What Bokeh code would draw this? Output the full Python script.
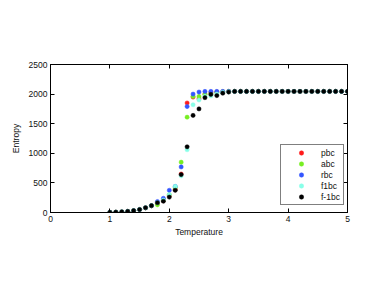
from bokeh.plotting import figure
from bokeh.models import LinearAxis, Range1d, Legend, LegendItem, FixedTicker
from bokeh.embed import file_html
from bokeh.resources import INLINE

temperature = [round(1.0 + 0.1 * i, 1) for i in range(41)]

low = [2, 5, 10, 18, 30, 50, 80, 115]  # T = 1.0 .. 1.7
tail = [2045] * 20  # T = 3.1 .. 5.0

pbc = low + [150, 200, 280, 390, 650, 1850, 1950, 1920, 2000, 2030, 2035, 2040, 2045] + tail
abc = low + [130, 210, 300, 420, 850, 1610, 1960, 1960, 1995, 2010, 2030, 2040, 2045] + tail
rbc = low + [185, 240, 375, 440, 770, 1790, 2000, 2035, 2045, 2045, 2045, 2045, 2045] + tail
f1bc = low + [165, 210, 300, 440, 620, 1060, 1820, 1900, 1960, 1970, 2000, 2030, 2040] + tail
fm1bc = low + [165, 190, 260, 375, 640, 1110, 1640, 1750, 1940, 1995, 1975, 2015, 2035] + tail

series_names = ["pbc", "abc", "rbc", "f1bc", "f-1bc"]
series_values = [pbc, abc, rbc, f1bc, fm1bc]
series_colors = ["#ff1a1a", "#77ee22", "#3355ff", "#88ffe8", "#000000"]

x_ticks = [0, 1, 2, 3, 4, 5]
y_ticks = [0, 500, 1000, 1500, 2000, 2500]

p = figure(width=374, height=279, output_backend="svg", toolbar_location=None,
           x_range=Range1d(0, 5), y_range=Range1d(0, 2500),
           min_border_left=50, min_border_right=27, min_border_top=64, min_border_bottom=67)

p.xgrid.visible = False
p.ygrid.visible = False
p.outline_line_color = "black"
p.outline_line_width = 1
p.background_fill_color = "white"
p.border_fill_color = "white"

font = "Liberation Sans"
for ax in (p.xaxis[0], p.yaxis[0]):
    ax.major_tick_in = 4
    ax.major_tick_out = 0
    ax.minor_tick_in = 0
    ax.minor_tick_out = 0
    ax.major_label_text_font = font
    ax.major_label_text_font_size = "8.5px"
    ax.major_label_text_color = "#111111"
    ax.axis_label_text_font = font
    ax.axis_label_text_font_size = "8.5px"
    ax.axis_label_text_font_style = "normal"
    ax.axis_label_text_color = "#111111"
    ax.axis_line_color = "black"
    ax.major_tick_line_color = "black"
p.xaxis[0].ticker = FixedTicker(ticks=x_ticks)
p.yaxis[0].ticker = FixedTicker(ticks=y_ticks)
p.xaxis[0].axis_label = "Temperature"
p.yaxis[0].axis_label = "Entropy"
p.xaxis[0].major_label_standoff = 3
p.yaxis[0].major_label_standoff = 3
p.xaxis[0].axis_label_standoff = 2
p.yaxis[0].axis_label_standoff = 5

right = LinearAxis(ticker=FixedTicker(ticks=y_ticks), major_tick_in=4, major_tick_out=0,
                   minor_tick_in=0, minor_tick_out=0,
                   major_label_overrides={t: "" for t in y_ticks},
                   major_label_standoff=0)
top = LinearAxis(ticker=FixedTicker(ticks=x_ticks), major_tick_in=4, major_tick_out=0,
                 minor_tick_in=0, minor_tick_out=0,
                 major_label_overrides={t: "" for t in x_ticks},
                 major_label_standoff=0)
p.add_layout(right, "right")
p.add_layout(top, "above")

items = []
for name, vals, col in zip(series_names, series_values, series_colors):
    r = p.scatter(temperature, vals, size=4.2, fill_color=col, line_color=col, line_width=0.5)
    items.append(LegendItem(label=name, renderers=[r]))

legend = Legend(items=items, location=(230, 7))
legend.border_line_color = "black"
legend.border_line_width = 1
legend.background_fill_color = "white"
legend.background_fill_alpha = 1
legend.label_text_font = font
legend.label_text_font_size = "8.5px"
legend.label_text_color = "#111111"
legend.padding = 2
legend.spacing = 0
legend.margin = 0
legend.glyph_width = 36
legend.glyph_height = 11
legend.label_height = 11
legend.label_standoff = 2
p.add_layout(legend, "center")

open("out.html", "w").write(file_html(p, INLINE))
